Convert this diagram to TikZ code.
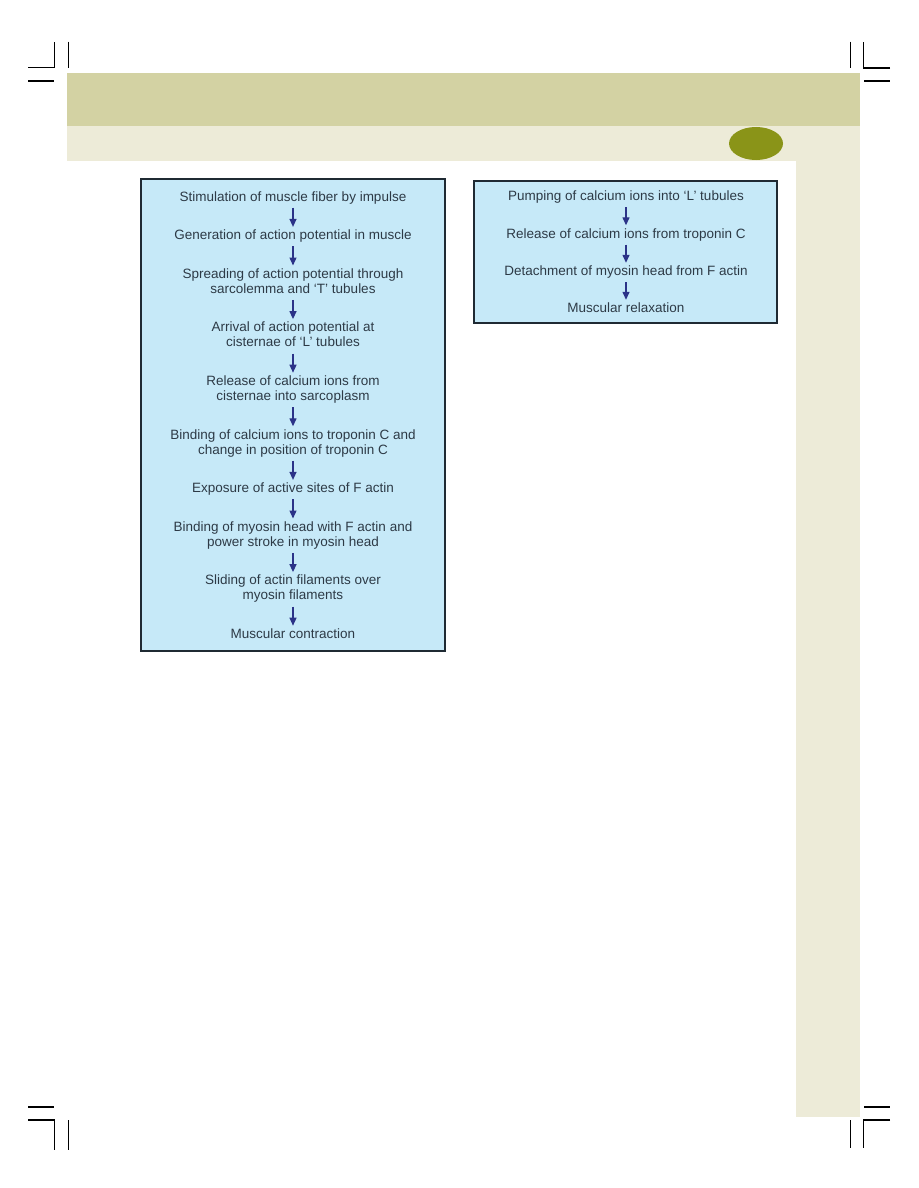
\documentclass[tikz,border=0pt]{standalone}
\usepackage{fontspec}
\setmainfont{Liberation Sans}
\usetikzlibrary{arrows.meta}
\definecolor{bandDark}{HTML}{D3D2A3}
\definecolor{bandLight}{HTML}{EDEBD8}
\definecolor{olive}{HTML}{8A9418}
\definecolor{boxFill}{HTML}{C6E9F8}
\definecolor{boxLine}{HTML}{1F2A33}
\definecolor{txt}{HTML}{2D3A46}
\definecolor{arrowBlue}{HTML}{2B3388}
\newcommand{\steptext}{\fontsize{13.5}{15}\selectfont}
\tikzset{
  stepbox/.style={font=\steptext, text=txt, align=center, inner sep=0pt},
  flowarrow/.style={draw=arrowBlue, line width=1.3pt,
    -{Triangle[width=7pt,length=8pt]}, shorten <=2pt, shorten >=2pt},
  panel/.style={draw=boxLine, fill=boxFill, line width=1.3pt},
  cropmark/.style={draw=black, line width=1.1pt}
}
\begin{document}
\begin{tikzpicture}[x=1pt,y=-1pt]
\useasboundingbox (0,0) rectangle (918,1188);
\fill[white] (0,0) rectangle (918,1188);
% page bands
\fill[bandDark] (67,72.7) rectangle (859.5,125.7);
\fill[bandLight] (67,125.7) rectangle (859.5,161);
\fill[bandLight] (796,161) rectangle (859.5,1117);
\fill[olive] (756,143.5) ellipse [x radius=27, y radius=16.5];
% crop marks
\draw[cropmark] (28,67.7) -- (54.3,67.7) -- (54.3,41.7);
\draw[cropmark] (68.5,41.7) -- (68.5,67.7);
\draw[cropmark] (28,81) -- (54.3,81);
\draw[cropmark] (890,68) -- (863.5,68) -- (863.5,41.7);
\draw[cropmark] (850.7,41.7) -- (850.7,68);
\draw[cropmark] (864,81) -- (890,81);
\draw[cropmark] (28,1107) -- (54,1107);
\draw[cropmark] (28,1120) -- (54.3,1120) -- (54.3,1150);
\draw[cropmark] (68.5,1120) -- (68.5,1150);
\draw[cropmark] (864,1107) -- (890,1107);
\draw[cropmark] (890,1120) -- (863.3,1120) -- (863.3,1148);
\draw[cropmark] (850.3,1120) -- (850.3,1148);
% panels
\draw[panel] (141,179) rectangle (445,651);
\draw[panel] (474,181) rectangle (777,323);
% left flow (node centres: one line = baseline-3; two lines = baseline+4.5)
\node[stepbox] (l1) at (293,198) {\strut Stimulation of muscle fiber by impulse};
\node[stepbox] (l2) at (293,236.6) {\strut Generation of action potential in muscle};
\node[stepbox] (l3) at (293,282.7) {\strut Spreading of action potential through\\\strut sarcolemma and ‘T’ tubules};
\node[stepbox] (l4) at (293,336.3) {\strut Arrival of action potential at\\\strut cisternae of ‘L’ tubules};
\node[stepbox] (l5) at (293,389.9) {\strut Release of calcium ions from\\\strut cisternae into sarcoplasm};
\node[stepbox] (l6) at (293,443.5) {\strut Binding of calcium ions to troponin C and\\\strut change in position of troponin C};
\node[stepbox] (l7) at (293,489.6) {\strut Exposure of active sites of F actin};
\node[stepbox] (l8) at (293,535.7) {\strut Binding of myosin head with F actin and\\\strut power stroke in myosin head};
\node[stepbox] (l9) at (293,589.3) {\strut Sliding of actin filaments over\\\strut myosin filaments};
\node[stepbox] (l10) at (293,635.4) {\strut Muscular contraction};
\foreach \a/\b in {l1/l2,l2/l3,l3/l4,l4/l5,l5/l6,l6/l7,l7/l8,l8/l9,l9/l10}
  \draw[flowarrow] (\a.south) -- (\b.north);
% right flow
\node[stepbox] (r1) at (626,197.5) {\strut Pumping of calcium ions into ‘L’ tubules};
\node[stepbox] (r2) at (626,235) {\strut Release of calcium ions from troponin C};
\node[stepbox] (r3) at (626,272.5) {\strut Detachment of myosin head from F actin};
\node[stepbox] (r4) at (626,309.5) {\strut Muscular relaxation};
\foreach \a/\b in {r1/r2,r2/r3,r3/r4}
  \draw[flowarrow] (\a.south) -- (\b.north);
\end{tikzpicture}
\end{document}
